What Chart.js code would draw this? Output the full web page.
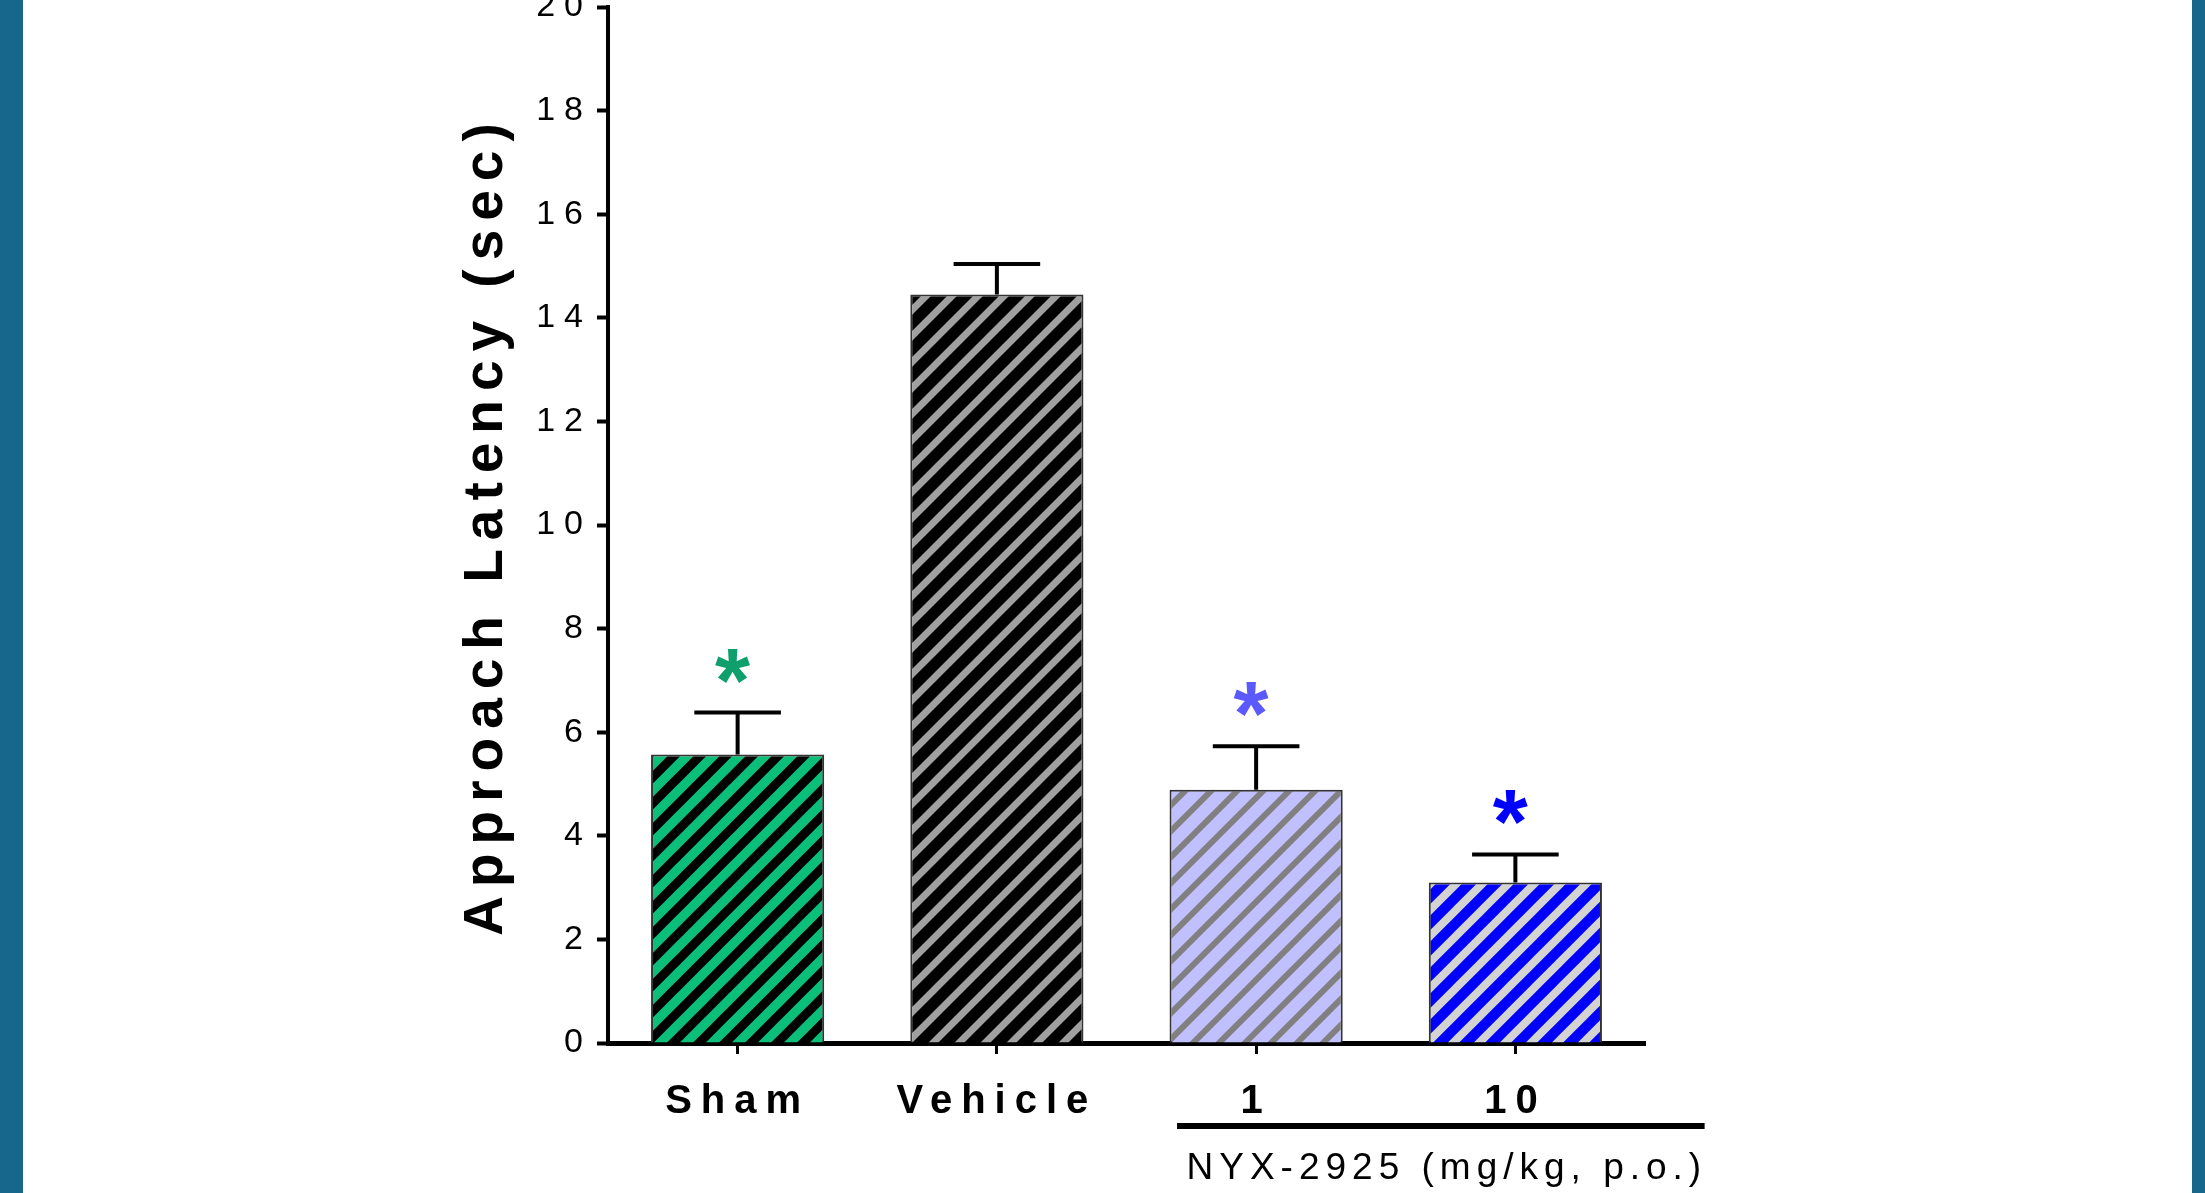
<!DOCTYPE html>
<html>
<head>
<meta charset="utf-8">
<title>Approach Latency</title>
<script src="https://cdn.jsdelivr.net/npm/chart.js"></script>
<style>
  html, body { margin: 0; padding: 0; background: #fff; overflow: hidden; }
  #wrap { position: relative; width: 2205px; height: 1193px; }
  .edge { position: absolute; top: 0; height: 1193px; background: #17678a; }
  #edge-left { left: 0; width: 23px; }
  #edge-right { left: 2192px; width: 13px; }
  canvas { position: absolute; left: 0; top: 0; }
</style>
</head>
<body>
<div id="wrap">
  <canvas id="latencyChart" width="2205" height="1193"></canvas>
  <div class="edge" id="edge-left"></div>
  <div class="edge" id="edge-right"></div>
</div>
<script>
// values
const groups = ['Sham', 'Vehicle', '1', '10'];
const latencyMean = [5.57, 14.45, 4.89, 3.10];
const latencySem = [0.81, 0.59, 0.84, 0.54];
const significant = [true, false, true, true];
const yTickValues = [0, 2, 4, 6, 8, 10, 12, 14, 16, 18, 20];
const groupTitle = 'NYX-2925 (mg/kg, p.o.)';
const doseBars = [2, 3]; // bars that sit under the NYX-2925 bracket

const FONT = 'Arial, "Liberation Sans", sans-serif';
const starColors = ['#0f9f6c', '#000', '#5a5aff', '#0000ff'];

// diagonal hatch fill for a bar
function makeStripes(bg, stripe, width) {
    const size = 26;
    const tile = document.createElement('canvas');
    tile.width = size;
    tile.height = size;
    const c = tile.getContext('2d');
    c.fillStyle = bg;
    c.fillRect(0, 0, size, size);
    c.strokeStyle = stripe;
    c.lineWidth = width;
    c.beginPath();
    for (let off = -size; off <= size; off += size) {
        c.moveTo(off - size, 2 * size);
        c.lineTo(off + 2 * size, -size);
    }
    c.stroke();
    return c.createPattern(tile, 'repeat');
}

const barFills = [
    makeStripes('#0bbf7a', '#000', 9),
    makeStripes('#000', '#a0a0a0', 7),
    makeStripes('#c0c0ff', '#808080', 6),
    makeStripes('#0000ff', '#d3d3d3', 8)
];

// error bars, asterisks and the dose bracket
const figureExtras = {
    id: 'figureExtras',
    beforeDraw(chart) {
        chart.ctx.letterSpacing = '9px';
    },
    afterDatasetsDraw(chart) {
        const ctx = chart.ctx;
        const yScale = chart.scales.y;
        const bars = chart.getDatasetMeta(0).data;
        ctx.save();
        ctx.letterSpacing = '0px';
        bars.forEach((bar, i) => {
            const top = yScale.getPixelForValue(latencyMean[i] + latencySem[i]);
            const base = yScale.getPixelForValue(latencyMean[i]);
            const half = bar.width * 0.25;
            ctx.strokeStyle = '#000';
            ctx.lineWidth = 4;
            ctx.beginPath();
            ctx.moveTo(bar.x, base);
            ctx.lineTo(bar.x, top);
            ctx.moveTo(bar.x - half, top);
            ctx.lineTo(bar.x + half, top);
            ctx.stroke();

            if (significant[i]) {
                ctx.font = 'bold 90px ' + FONT;
                ctx.fillStyle = starColors[i];
                ctx.textAlign = 'center';
                ctx.textBaseline = 'alphabetic';
                const m = ctx.measureText('*');
                const cy = top - 47;
                ctx.fillText('*', bar.x - 5, cy + (m.actualBoundingBoxAscent - m.actualBoundingBoxDescent) / 2);
            }
        });
        ctx.restore();
    },
    afterDraw(chart) {
        const ctx = chart.ctx;
        const xScale = chart.scales.x;
        const first = xScale.getPixelForValue(doseBars[0]);
        const last = xScale.getPixelForValue(doseBars[doseBars.length - 1]);
        const step = last - first;
        const left = first - step * 0.305;
        const right = last + step * 0.73;
        const lineY = xScale.top + 83;
        ctx.save();
        ctx.strokeStyle = '#000';
        ctx.lineWidth = 6;
        ctx.beginPath();
        ctx.moveTo(left, lineY);
        ctx.lineTo(right, lineY);
        ctx.stroke();
        ctx.letterSpacing = '6px';
        ctx.font = '37px ' + FONT;
        ctx.fillStyle = '#000';
        ctx.textAlign = 'center';
        ctx.textBaseline = 'middle';
        ctx.fillText(groupTitle, (left + right) / 2 + 6, lineY + 43);
        ctx.restore();
    }
};

const ctx = document.getElementById('latencyChart').getContext('2d');

new Chart(ctx, {
    type: 'bar',
    data: {
        labels: groups,
        datasets: [{
            data: latencyMean,
            backgroundColor: barFills,
            borderColor: '#333',
            borderWidth: 2,
            barPercentage: 0.668,
            categoryPercentage: 1
        }]
    },
    options: {
        responsive: false,
        animation: false,
        devicePixelRatio: 1,
        layout: {
            padding: { left: 454, right: 560, top: 7, bottom: 0 }
        },
        plugins: {
            legend: { display: false },
            tooltip: { enabled: false }
        },
        scales: {
            x: {
                afterFit: (scale) => {
                    scale.height = 150;
                    scale.paddingLeft = 0;
                    scale.paddingRight = 0;
                },
                ticks: {
                    font: { family: FONT, size: 40, weight: 'bold' },
                    color: '#000',
                    padding: 24,
                    maxRotation: 0
                },
                grid: {
                    offset: false,
                    drawOnChartArea: false,
                    tickLength: 11,
                    tickWidth: 3,
                    tickColor: '#000'
                },
                border: { display: true, color: '#000', width: 5 }
            },
            y: {
                min: 0,
                max: 20,
                afterBuildTicks: (scale) => {
                    scale.ticks = yTickValues.map(v => ({ value: v }));
                },
                afterFit: (scale) => {
                    scale.width = 154;
                    scale.paddingTop = 0;
                    scale.paddingBottom = 0;
                },
                ticks: {
                    font: { family: FONT, size: 34 },
                    color: '#000',
                    padding: 5
                },
                grid: {
                    drawOnChartArea: false,
                    tickLength: 11,
                    tickWidth: 4,
                    tickColor: '#000'
                },
                border: { display: true, color: '#000', width: 4 },
                title: {
                    display: true,
                    text: 'Approach Latency (sec)',
                    font: { family: FONT, size: 55, weight: 'bold' },
                    color: '#000',
                    padding: 0
                }
            }
        }
    },
    plugins: [figureExtras]
});
</script>
</body>
</html>
